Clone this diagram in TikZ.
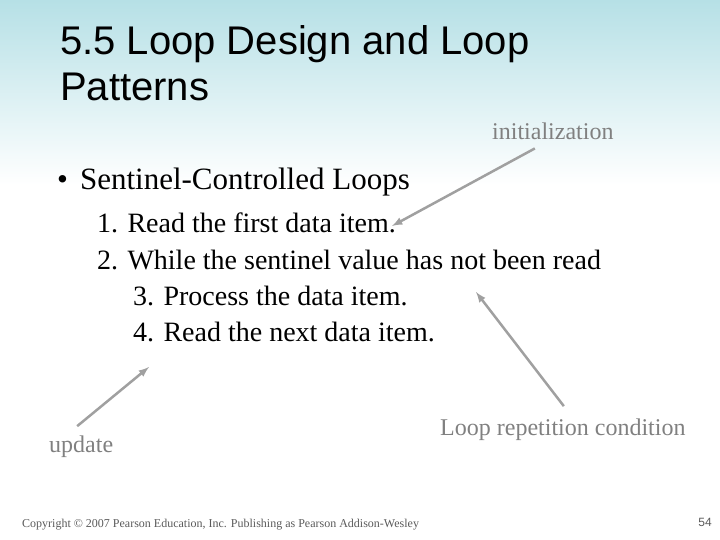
\documentclass[tikz,border=0pt]{standalone}
\usepackage{fontspec}
\setmainfont{Liberation Serif}
\newfontfamily\titlefont{Liberation Sans}
\usetikzlibrary{positioning}
\definecolor{headcyan}{RGB}{182,224,230}
\definecolor{notegray}{RGB}{128,128,128}
\definecolor{arrowgray}{RGB}{160,160,160}
\tikzset{
  line/.style={anchor=base west,inner sep=0pt,font=\fontsize{28}{32}\selectfont},
  note/.style={anchor=base west,inner sep=0pt,text=notegray,font=\fontsize{24}{28}\selectfont},
  pointer/.style={draw=arrowgray,line width=2.5pt,-latex}
}
\begin{document}
\begin{tikzpicture}[x=1pt,y=-1pt]
      \useasboundingbox (0,0) rectangle (720,540);
      \shade[top color=headcyan,bottom color=white] (0,0) rectangle (720,185);
      % title
      \node[anchor=north west,inner sep=0pt,align=left,font=\titlefont\fontsize{40}{46}\selectfont] (title) at (60,25) {5.5 Loop Design and Loop\\Patterns};
      % body
      \node[anchor=base west,inner sep=0pt,font=\fontsize{31}{36}\selectfont] (bullet) at (57,190) {\textbullet\hspace{12pt}Sentinel-Controlled Loops};
      \node[line] (s1) at (97,233) {1. Read the first data item.};
      \node[line] (s2) at (97,269) {2. While the sentinel value has not been read};
      \node[line] (s3) at (133,305) {3. Process the data item.};
      \node[line] (s4) at (133,341) {4. Read the next data item.};
      % notes
      \node[note] (init) at (492,140) {initialization};
      \node[note] (cond) at (440,435) {Loop repetition condition};
      \node[note] (upd) at (49,452) {update};
      \coordinate (initend) at (392,226);
      \coordinate (condend) at (476,292);
      \coordinate (updend) at (149,367);
      \draw[pointer] (init.south) ++(-18,8) -- (initend);
      \draw[pointer] (cond.north) ++(1,-12) -- (condend);
      \draw[pointer] (upd.north) ++(-4,-9) -- (updend);
      % footer
      \node[anchor=base west,inner sep=0pt,text=notegray!70!black,font=\fontsize{12}{14}\selectfont] (copy) at (22,527) {Copyright \textcopyright\ 2007 Pearson Education, Inc. Publishing as Pearson Addison-Wesley};
      \node[anchor=base east,inner sep=0pt,text=notegray!70!black,font=\titlefont\fontsize{12}{14}\selectfont] (page) at (712,526) {54};
\end{tikzpicture}
\end{document}
